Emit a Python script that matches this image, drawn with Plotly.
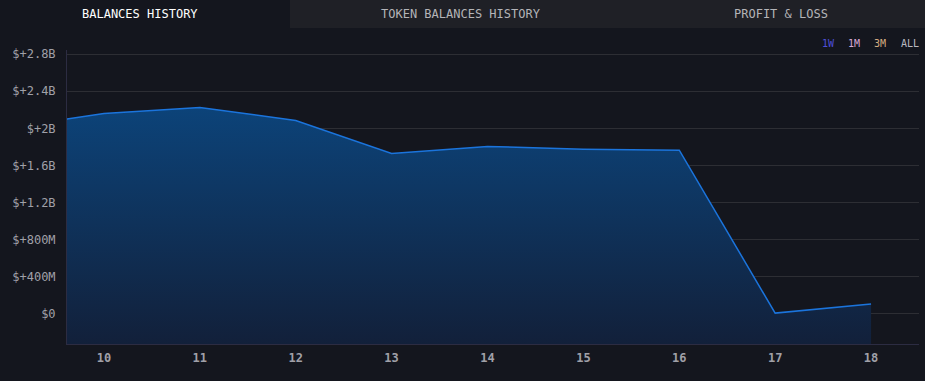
import plotly.graph_objects as go

days = [9, 10, 11, 12, 13, 14, 15, 16, 17, 18]
balances = [2.01e9, 2.16e9, 2.225e9, 2.085e9, 1.73e9, 1.805e9, 1.775e9, 1.765e9, 0.008e9, 0.105e9]
y_ticks = [0, 0.4e9, 0.8e9, 1.2e9, 1.6e9, 2.0e9, 2.4e9, 2.8e9]
y_tick_labels = ["$0", "$+400M", "$+800M", "$+1.2B", "$+1.6B", "$+2B", "$+2.4B", "$+2.8B"]
x_ticks = [10, 11, 12, 13, 14, 15, 16, 17, 18]
tabs = ["BALANCES HISTORY", "TOKEN BALANCES HISTORY", "PROFIT & LOSS"]
ranges = ["1W", "1M", "3M", "ALL"]
range_colors = ["#4f4fd8", "#d7a9d6", "#d4ad82", "#b8b8c0"]

Y_MIN, Y_MAX = -0.325e9, 2.845e9
X_MIN, X_MAX = 9.615, 18.5
BG = "#14161e"
MONO = "DejaVu Sans Mono"
W, H = 925, 381
ML, MR, MT, MB = 67, 6, 50, 37
PW, PH = W - ML - MR, H - MT - MB


def px(xp):
    return (xp - ML) / PW


def py(yp):
    return (H - MB - yp) / PH


fig = go.Figure()
fig.add_trace(go.Scatter(x=days, y=[Y_MIN] * len(days), mode="lines",
                         line=dict(width=0), hoverinfo="skip", showlegend=False))
fig.add_trace(go.Scatter(
    x=days, y=balances, mode="lines", fill="tonexty",
    line=dict(color="#1b74dc", width=1.5),
    fillgradient=dict(type="vertical", start=Y_MIN, stop=max(balances),
                      colorscale=[[0, "#12203a"], [1, "#0c4379"]]),
    showlegend=False))

fig.update_layout(
    width=W, height=H,
    paper_bgcolor=BG, plot_bgcolor=BG,
    margin=dict(l=ML, r=MR, t=MT, b=MB),
    font=dict(family=MONO, color="#a0a0a8", size=12),
    xaxis=dict(range=[X_MIN, X_MAX], tickvals=x_ticks, showgrid=False, zeroline=False,
               showline=True, linecolor="#2c2c42", linewidth=1, ticks="",
               ticklabelstandoff=3,
               tickfont=dict(family=MONO, size=12, color="#a0a0a8", weight="bold")),
    yaxis=dict(range=[Y_MIN, Y_MAX], tickvals=y_ticks, ticktext=y_tick_labels,
               showgrid=True, gridcolor="#2d2e34", gridwidth=1, zeroline=False,
               showline=True, linecolor="#2c2c42", linewidth=1, ticks="",
               ticklabelstandoff=8,
               tickfont=dict(family=MONO, size=12, color="#a0a0a8")),
)

shapes = [
    dict(type="rect", xref="paper", yref="paper", x0=px(0), x1=px(290),
         y0=py(28), y1=py(0), line=dict(width=0), fillcolor=BG, layer="below"),
    dict(type="rect", xref="paper", yref="paper", x0=px(290), x1=px(W),
         y0=py(28), y1=py(0), line=dict(width=0), fillcolor="#1f2026", layer="below"),
]
annotations = []
centers = [140, 461, 781]
for i, t in enumerate(tabs):
    annotations.append(dict(text=t, xref="paper", yref="paper",
                            x=px(centers[i]), y=py(14),
                            showarrow=False, xanchor="center", yanchor="middle",
                            font=dict(family=MONO, size=12,
                                      color="#ffffff" if i == 0 else "#b4b4b8")))
rx = [828, 854, 880, 910]
for i, r in enumerate(ranges):
    annotations.append(dict(text=r, xref="paper", yref="paper",
                            x=px(rx[i]), y=py(43),
                            showarrow=False, xanchor="center", yanchor="middle",
                            font=dict(family=MONO, size=10, color=range_colors[i])))
fig.update_layout(shapes=shapes, annotations=annotations)

fig.write_html("out.html", config={"displayModeBar": False},
               post_script="document.body.style.margin='0';")
